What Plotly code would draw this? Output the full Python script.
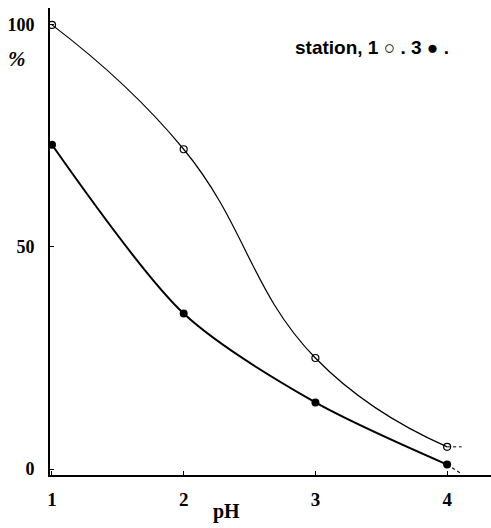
import plotly.graph_objects as go

ph = [1, 2, 3, 4]
station1 = [100, 72, 25, 5]
station3 = [73, 35, 15, 1]
ext_ph = [4, 4.11]
station1_ext = [5, 5]
station3_ext = [1, -1.1]

y_ticks = [0, 50, 100]
x_ticks = [1, 2, 3, 4]

serif = "Liberation Serif, Times New Roman, serif"
sans = "Liberation Sans, Arial, sans-serif"

fig = go.Figure()
fig.add_trace(go.Scatter(x=ph, y=station1, mode="lines+markers",
                         line=dict(color="black", width=1.2, shape="spline", smoothing=1.3),
                         marker=dict(symbol="circle-open", size=7, color="black", line=dict(width=1.2))))
fig.add_trace(go.Scatter(x=ph, y=station3, mode="lines+markers",
                         line=dict(color="black", width=2, shape="spline", smoothing=0.8),
                         marker=dict(symbol="circle", size=8, color="black")))
fig.add_trace(go.Scatter(x=ext_ph, y=station1_ext, mode="lines",
                         line=dict(color="black", width=1, dash="dot")))
fig.add_trace(go.Scatter(x=ext_ph, y=station3_ext, mode="lines",
                         line=dict(color="black", width=1.2, dash="dot")))

fig.update_layout(
    width=491, height=528,
    margin=dict(l=50, r=0, t=8, b=53),
    paper_bgcolor="white", plot_bgcolor="white",
    showlegend=False,
    xaxis=dict(range=[0.985, 4.333], tickvals=x_ticks, ticktext=["<b>%d</b>" % v for v in x_ticks],
               showline=True, linecolor="black", linewidth=2, showgrid=False, zeroline=False,
               ticks="inside", ticklen=4, tickcolor="black",
               tickfont=dict(family=serif, size=19, color="black"), ticklabelstandoff=6),
    yaxis=dict(range=[-1.34, 103.8], tickvals=y_ticks, ticktext=["<b>%d</b>" % v for v in y_ticks],
               showline=True, linecolor="black", linewidth=2, showgrid=False, zeroline=False,
               ticks="inside", ticklen=4, tickcolor="black",
               tickfont=dict(family=serif, size=18, color="black"), ticklabelstandoff=10),
    annotations=[
        dict(text="<b><i>%</i></b>", x=-0.075, y=0.89, xref="paper", yref="paper", showarrow=False,
             font=dict(family=serif, size=21, color="black"), xanchor="center", yanchor="middle"),
        dict(text="<b>station, 1</b> ○ <b>. 3</b> ● <b>.</b>", x=0.73, y=0.916, xref="paper", yref="paper",
             showarrow=False, font=dict(family=sans, size=19, color="black"),
             xanchor="center", yanchor="middle"),
        dict(text="<b>pH</b>", x=0.4, y=-0.078, xref="paper", yref="paper", showarrow=False,
             font=dict(family=serif, size=20, color="black"), xanchor="center", yanchor="middle"),
    ],
)
fig.write_html("out.html")
